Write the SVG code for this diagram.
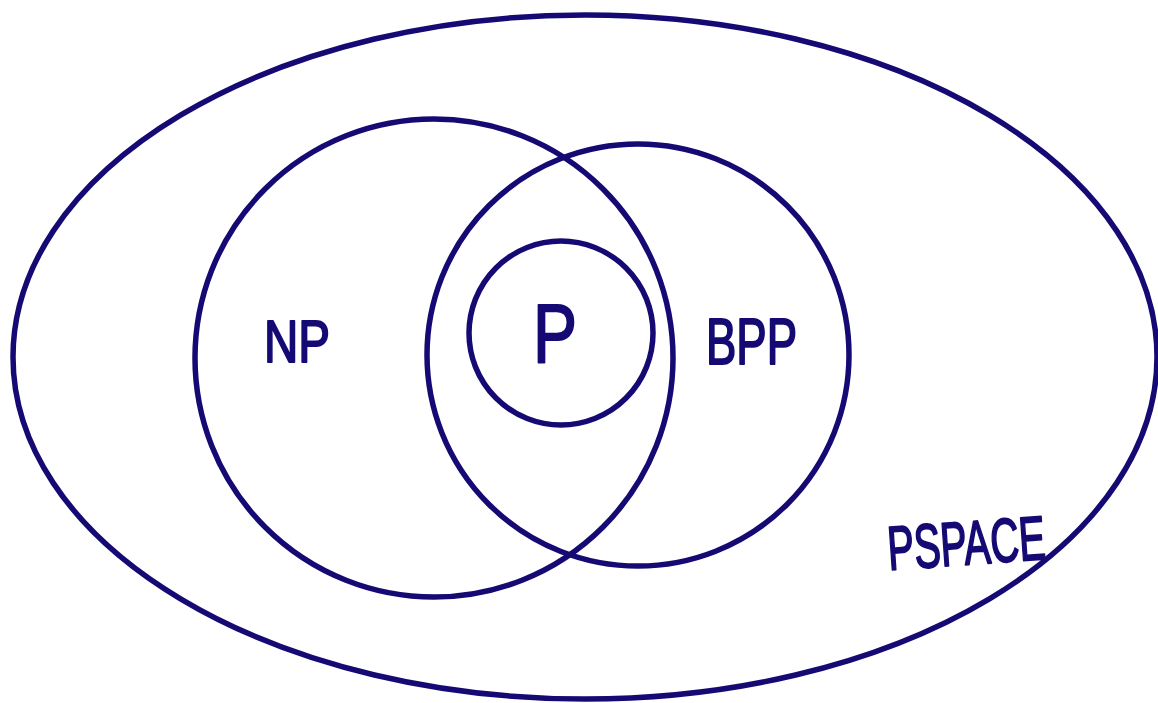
<svg xmlns="http://www.w3.org/2000/svg" width="1158" height="703" viewBox="0 0 1158 703">
<style>
.set{fill:none;stroke:#150a73;stroke-width:5.5}
.lbl{fill:#150a73;stroke:#150a73;stroke-width:2;stroke-linejoin:round;font-family:"Liberation Sans","DejaVu Sans",sans-serif;font-weight:normal}
</style>
<rect width="1158" height="703" fill="#ffffff"/>
<g id="pspace">
<ellipse class="set" cx="585" cy="357" rx="572" ry="342"/>
<text class="lbl" x="889" y="570" font-size="62" textLength="158" lengthAdjust="spacingAndGlyphs" transform="rotate(-4 889 570)">PSPACE</text>
</g>
<g id="np">
<circle class="set" cx="434" cy="358" r="239"/>
<text class="lbl" x="264" y="362" font-size="60" textLength="66" lengthAdjust="spacingAndGlyphs">NP</text>
</g>
<g id="bpp">
<circle class="set" cx="638" cy="355" r="211"/>
<text class="lbl" x="706" y="364" font-size="64" textLength="91" lengthAdjust="spacingAndGlyphs">BPP</text>
</g>
<g id="p">
<circle class="set" cx="561" cy="333" r="92"/>
<text class="lbl" x="533" y="362" font-size="84" textLength="44" lengthAdjust="spacingAndGlyphs">P</text>
</g>
<g id="connectors"/>
</svg>
